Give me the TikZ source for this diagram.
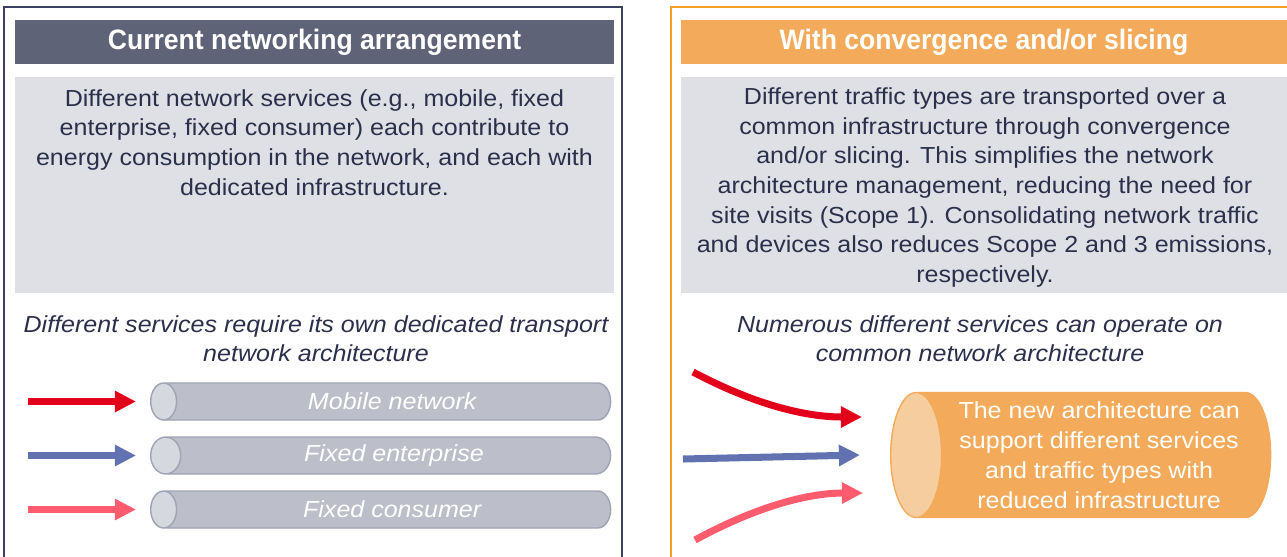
\documentclass[tikz,border=0pt]{standalone}
\usepackage{fontspec}
\setmainfont{Liberation Sans}[FakeStretch=1.08]
\newfontfamily\headfont{Liberation Sans}[FakeStretch=0.945]
\usetikzlibrary{arrows.meta,shapes.geometric,positioning}

\definecolor{navy}{HTML}{3B4060}
\definecolor{slate}{HTML}{5F6378}
\definecolor{ink}{HTML}{2B2F4A}
\definecolor{mist}{HTML}{DFE0E6}
\definecolor{pipegrey}{HTML}{BCBEC9}
\definecolor{pipeend}{HTML}{D5D8DF}
\definecolor{pipeline}{HTML}{A0A3B3}
\definecolor{amber}{HTML}{F3AB5B}
\definecolor{amberline}{HTML}{F5A023}
\definecolor{amberend}{HTML}{F6CD9E}
\definecolor{mobilered}{HTML}{E2001A}
\definecolor{fixedblue}{HTML}{6272B0}
\definecolor{consumerpink}{HTML}{FD5C6F}

\begin{document}
\begin{tikzpicture}[x=0.02cm, y=-0.02cm,
    head/.style={draw=none, text=white, font=\headfont\bfseries\fontsize{16}{19}\selectfont,
      minimum height=0.88cm, inner sep=0pt},
    panel/.style={draw=none, fill=mist, minimum height=4.32cm, inner sep=0pt},
    body/.style={text=ink, align=center, font=\fontsize{13.2}{16.9}\selectfont},
    note/.style={text=ink, align=center, font=\itshape\fontsize{13.2}{16.5}\selectfont},
    pipe/.style={cylinder, shape border rotate=180, draw=pipeline, line width=0.8pt,
      cylinder uses custom fill, cylinder body fill=pipegrey, cylinder end fill=pipeend,
      minimum width=0.74cm, minimum height=9.2cm, aspect=0.9, text=white, anchor=west,
      font=\itshape\fontsize{13.2}{15}\selectfont},
    flow/.style={line width=4pt, -{Triangle[length=12pt, width=11.5pt]}}]
\useasboundingbox (0,0) rectangle (1287,556);
% frames
\draw [navy, line width=1.2pt] (4,570) |- (622,7) -- (622,570);
\draw [amberline, line width=1.2pt] (671,570) |- (1300,7);
% left column
\node [head, fill=slate, minimum width=11.98cm] (lefthead) at (314.5,42) {Current networking arrangement};
\node [panel, minimum width=11.98cm] (leftbox) at (314.5,185) {};
\node [body] (lefttext) at (314.5,142.5) {Different network services (e.g., mobile, fixed\\
  enterprise, fixed consumer) each contribute to\\
  energy consumption in the network, and each with\\
  dedicated infrastructure.};
\node [note] (leftnote) at (316,338.5) {Different services require its own dedicated transport\\network architecture};
\node [pipe] (mobile) at (150,401.5) {Mobile network};
\node [pipe] (enterprise) at (150,455.5) {Fixed enterprise};
\node [pipe] (consumer) at (150,509.5) {Fixed consumer};
\coordinate (mobilein) at (28,401.5);
\coordinate (enterprisein) at (28,455.5);
\coordinate (consumerin) at (28,509.5);
\draw [flow, mobilered, shorten >=0.28cm] (mobilein) -- (mobile.west);
\draw [flow, fixedblue, shorten >=0.28cm] (enterprisein) -- (enterprise.west);
\draw [flow, consumerpink, shorten >=0.28cm] (consumerin) -- (consumer.west);
% right column
\node [head, fill=amber, minimum width=12.12cm] (righthead) at (984,42) {With convergence and/or slicing};
\node [panel, minimum width=12.12cm] (rightbox) at (984,185) {};
\node [body] (righttext) at (985,187.5) {Different traffic types are transported over a\\
  common infrastructure through convergence\\
  and/or slicing. This simplifies the network\\
  architecture management, reducing the need for\\
  site visits (Scope 1). Consolidating network traffic\\
  and devices also reduces Scope 2 and 3 emissions,\\
  respectively.};
\node [note] (rightnote) at (980,338.5) {Numerous different services can operate on\\common network architecture};
\node [pipe, cylinder body fill=amber, cylinder end fill=amberend, draw=amber,
  minimum width=2.5cm, minimum height=7.6cm, aspect=0.43,
  font=\fontsize{13.2}{17}\selectfont, align=center] (common) at (890,455)
  {The new architecture can\\support different services\\and traffic types with\\reduced infrastructure};
\coordinate (redin) at (693,372);
\coordinate (bluein) at (683,459);
\coordinate (pinkin) at (695,540);
\draw [flow, mobilered] (redin) .. controls (765,410) and (815,417) .. ([shift={(-28,-38)}]common.west);
\draw [flow, fixedblue] (bluein) -- ([shift={(-30,0)}]common.west);
\draw [flow, consumerpink] (pinkin) .. controls (765,502) and (815,493) .. ([shift={(-27,38)}]common.west);
\end{tikzpicture}
\end{document}
